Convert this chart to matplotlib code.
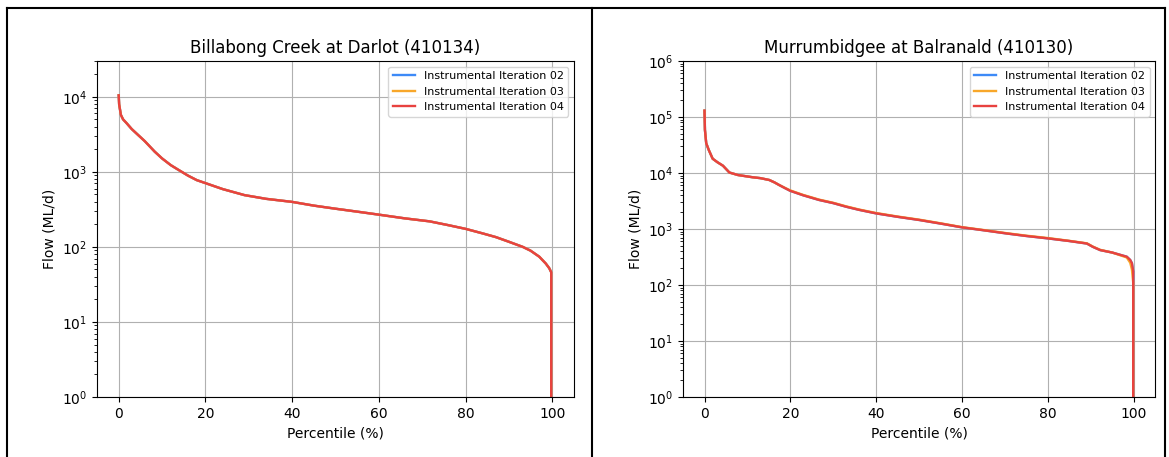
import matplotlib
matplotlib.use("Agg")
import matplotlib.pyplot as plt
from matplotlib.lines import Line2D

# Billabong Creek at Darlot (410134) - flow duration curve
billabong_pct = [0.0, 0.1, 0.5, 1.0, 1.8, 3.0, 4.5, 6.0, 8.3, 10.0, 12.0,
                 13.7, 16.0, 18.0, 20.0, 24.0, 29.0, 34.0, 40.0, 45.0, 49.8,
                 55.0, 60.0, 66.0, 71.7, 76.0, 80.0, 84.0, 87.0, 90.0, 93.2,
                 95.0, 97.0, 98.5, 99.3, 99.75, 99.8, 100.0]
billabong_flow = [10470, 7940, 5750, 5010, 4470, 3720, 3090, 2570, 1860, 1510,
                  1230, 1070, 890, 776, 708, 589, 490, 437, 398, 355, 324,
                  295, 269, 240, 219, 195, 174, 151, 135, 117, 100,
                  89, 74, 60, 52, 46, 0.0, 0.0]

# Murrumbidgee at Balranald (410130)
murrum_pct = [0.0, 0.1, 0.4, 1.0, 1.9, 3.0, 4.3, 5.8, 7.8, 11.2, 13.0, 15.1,
              16.3, 17.4, 18.7, 20.0, 23.0, 26.7, 30.0, 33.0, 36.0, 40.0,
              45.0, 50.0, 55.0, 60.0, 65.0, 70.5, 75.0, 80.0, 85.0, 89.1,
              90.5, 92.2, 95.0, 98.4, 99.2, 99.6, 99.9, 99.95, 100.0]
murrum_flow_02 = [130000, 59000, 34000, 25700, 18000, 15600, 13500, 10200,
                  9200, 8400, 8100, 7500, 6800, 6100, 5400, 4800, 4000, 3300,
                  2900, 2500, 2200, 1900, 1650, 1450, 1250, 1070, 950, 830,
                  750, 680, 610, 550, 480, 420, 380, 320, 280, 245, 174,
                  0.0, 0.0]
murrum_flow_03 = [130000, 59000, 34000, 25700, 18000, 15600, 13500, 10200,
                  9200, 8400, 8100, 7500, 6800, 6100, 5450, 4880, 4060, 3350,
                  2940, 2540, 2230, 1930, 1670, 1470, 1265, 1080, 960, 840,
                  760, 690, 615, 555, 485, 425, 380, 310, 250, 190, 110,
                  0.0, 0.0]
murrum_flow_04 = [130000, 59000, 34000, 25700, 18000, 15600, 13500, 10200,
                  9200, 8400, 8100, 7500, 6800, 6100, 5400, 4800, 4000, 3300,
                  2900, 2500, 2200, 1900, 1650, 1450, 1250, 1070, 950, 830,
                  750, 680, 610, 550, 480, 420, 380, 320, 280, 245, 174,
                  0.0, 0.0]

labels = ["Instrumental Iteration 02", "Instrumental Iteration 03",
          "Instrumental Iteration 04"]
colors = ["#3d8af7", "#f8a72a", "#e8423f"]

panels = [
    ("Billabong Creek at Darlot (410134)", billabong_pct,
     [billabong_flow, billabong_flow, billabong_flow], (1, 3e4)),
    ("Murrumbidgee at Balranald (410130)", murrum_pct,
     [murrum_flow_02, murrum_flow_03, murrum_flow_04], (1, 1e6)),
]

fig = plt.figure(figsize=(11.69, 4.57), dpi=100)
positions = [[0.083, 0.1313, 0.408, 0.7352], [0.5843, 0.1313, 0.4038, 0.7352]]

for pos, (title, pct, series, ylim) in zip(positions, panels):
    ax = fig.add_axes(pos)
    for flow, label, color in zip(series, labels, colors):
        ax.plot(pct, flow, color=color, linewidth=1.7, label=label)
    ax.set_yscale("log", nonpositive="clip")
    ax.set_ylim(*ylim)
    ax.set_xlim(-5, 105)
    ax.set_title(title, fontsize=12)
    ax.set_xlabel("Percentile (%)")
    ax.set_ylabel("Flow (ML/d)")
    ax.grid(True, color="#b0b0b0", linewidth=0.8)
    ax.legend(loc="upper right", fontsize=8)

# cell borders of the original screenshot
for x in (0.006, 0.5064, 0.9966):
    fig.add_artist(Line2D([x, x], [0, 0.9825], color="black", linewidth=1.5))
fig.add_artist(Line2D([0.006, 0.9966], [0.9825, 0.9825], color="black",
                      linewidth=1.5))

fig.savefig("out.png", dpi=100)
